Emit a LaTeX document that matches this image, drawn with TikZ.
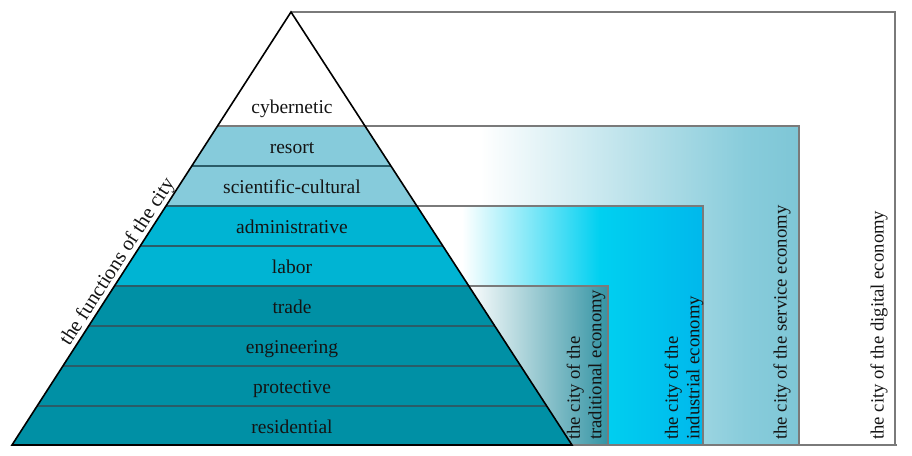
\documentclass[tikz,border=0pt]{standalone}
\usepackage{fontspec}
\setmainfont{Liberation Serif}
\usetikzlibrary{calc}
\definecolor{bandlight}{HTML}{86CBDB}
\definecolor{bandcyan}{HTML}{00B4D3}
\definecolor{bandteal}{HTML}{0090A5}
\definecolor{bandline}{HTML}{2A5C68}
\definecolor{frame}{HTML}{7A7A7A}
\definecolor{svcfill}{HTML}{88CCDB}
\definecolor{svcdeep}{HTML}{7EC6D6}
\definecolor{indfill}{HTML}{00D0F0}
\definecolor{inddeep}{HTML}{00B8EC}
\definecolor{tradfill}{HTML}{3494A4}
\definecolor{inktext}{HTML}{141414}
\begin{document}
\begin{tikzpicture}[x=1pt,y=-1pt,
  frameline/.style={draw=frame,line width=1.2pt},
  level/.style={font=\fontsize{19.5}{22}\selectfont, text=inktext, inner sep=0pt, anchor=base},
  vlabel/.style={font=\fontsize{18.7}{21.5}\selectfont, text=inktext, inner sep=0pt, rotate=90, anchor=west, align=left},
  sidelabel/.style={font=\fontsize{20.5}{24}\selectfont, text=inktext, inner sep=0pt, anchor=base, rotate=57.2},
]
\useasboundingbox (0,0) rectangle (912,455);
\coordinate (apex) at (291,12);
\coordinate (bl) at (12,445);
\coordinate (br) at (572,445);

% digital economy frame
\draw[frameline] (apex) -- (895,12) -- (895,445);

% service economy block
\shade[left color=white,right color=svcfill] (480,126) rectangle (745,445);
\shade[left color=svcfill,right color=svcdeep] (745,126) rectangle (799,445);
\draw[frameline] (360,126) -- (799,126) -- (799,445);

% industrial economy block
\shade[left color=white,right color=indfill] (462,206) rectangle (600,445);
\shade[left color=indfill,right color=inddeep] (600,206) rectangle (703,445);
\draw[frameline] (410,206) -- (703,206) -- (703,445);

% traditional economy block
\shade[left color=white,right color=tradfill] (466,286) rectangle (608,445);
\draw[frameline] (466,286) -- (608,286) -- (608,445);

% common base line
\draw[frameline] (12,445) -- (897,445);

% pyramid of city functions
\fill[white] (apex) -- (bl) -- (br) -- cycle;
\begin{scope}
  \clip (apex) -- (bl) -- (br) -- cycle;
  \fill[bandlight] (0,126) rectangle (912,206);
  \fill[bandcyan] (0,206) rectangle (912,286);
  \fill[bandteal] (0,286) rectangle (912,446);
  \draw[frame, line width=1.2pt] (0,126) -- (912,126);
  \foreach \yy in {166,206,...,406}
    \draw[bandline, line width=1.1pt] (0,\yy) -- (912,\yy);
\end{scope}
\draw[line width=1.6pt, line join=miter] (apex) -- (bl) -- (br) -- cycle;

% level labels
\node[level] (cyb) at (292,113) {cybernetic};
\node[level] (res) at (292,153) {resort};
\node[level] (sci) at (292,193) {scientific-cultural};
\node[level] (adm) at (292,233) {administrative};
\node[level] (lab) at (292,273) {labor};
\node[level] (tra) at (292,313) {trade};
\node[level] (eng) at (292,353) {engineering};
\node[level] (pro) at (292,393) {protective};
\node[level] (rsd) at (292,433) {residential};

% side label along the pyramid
\node[sidelabel] (functions) at ($(apex)!0.59!(bl)+(-4.2,-2.7)$) {the functions of the city};

% economy labels
\node[vlabel] (trad) at (586,440) {the city of the\\traditional economy};
\node[vlabel] (ind) at (684,440) {the city of the\\industrial economy};
\node[vlabel] (svc) at (782,440) {the city of the service economy};
\node[vlabel] (dig) at (879,440) {the city of the digital economy};
\end{tikzpicture}
\end{document}
